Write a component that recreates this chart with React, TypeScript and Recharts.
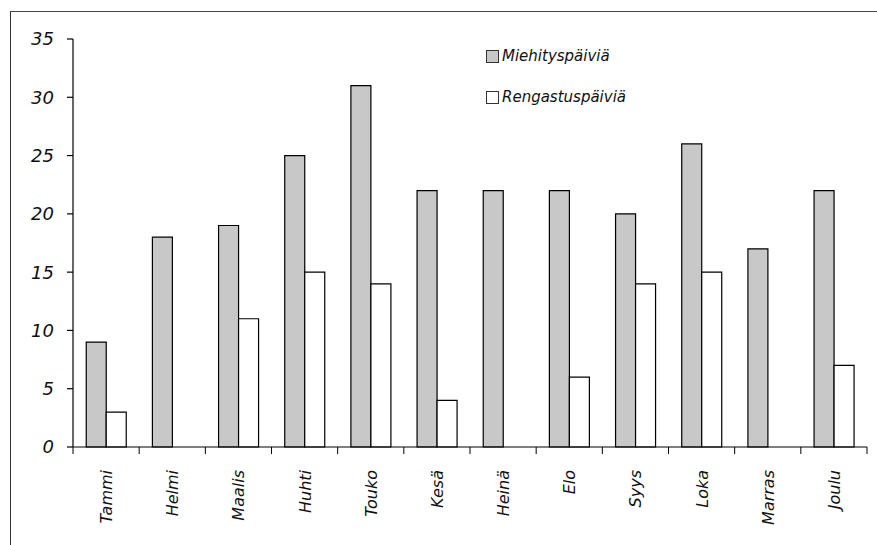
import React from 'react';
import { BarChart, Bar, XAxis, YAxis } from 'recharts';

const months = ['Tammi', 'Helmi', 'Maalis', 'Huhti', 'Touko', 'Kesä', 'Heinä', 'Elo', 'Syys', 'Loka', 'Marras', 'Joulu'];
const miehitys = [9, 18, 19, 25, 31, 22, 22, 22, 20, 26, 17, 22];
const rengastus = [3, 0, 11, 15, 14, 4, 0, 6, 14, 15, 0, 7];
const yTicks = [0, 5, 10, 15, 20, 25, 30, 35];

const data = months.map((m, i) => ({ name: m, miehitys: miehitys[i], rengastus: rengastus[i] }));

const W = 877;
const H = 545;
const PLOT_LEFT = 73;
const PLOT_RIGHT = 10;
const BAND = (W - PLOT_LEFT - PLOT_RIGHT) / months.length;
const FONT = '"DejaVu Sans", sans-serif';

const MonthTick = (props: any) => {
  const { x, y, payload, index } = props;
  const left = x - BAND / 2;
  return (
    <g>
      <line x1={left} y1={y - 8} x2={left} y2={y - 1} stroke="#000" strokeWidth={1} />
      {index === months.length - 1 && (
        <line x1={x + BAND / 2} y1={y - 8} x2={x + BAND / 2} y2={y - 1} stroke="#000" strokeWidth={1} />
      )}
      <text
        x={0}
        y={0}
        transform={`translate(${x + 6},${y + 15}) rotate(-90)`}
        textAnchor="end"
        fontFamily={FONT}
        fontStyle="italic"
        fontSize={16}
        fill="#111"
      >
        {payload.value}
      </text>
    </g>
  );
};

const App: React.FC = () => {
  return (
    <div style={{ position: 'fixed', left: 0, top: 0, width: W, height: H, background: '#fff' }}>
      <div style={{ position: 'absolute', left: 10, top: 11, right: 0, bottom: 0, borderLeft: '1.5px solid #333', borderTop: '1.5px solid #444' }} />
      <BarChart
        width={W}
        height={H}
        data={data}
        margin={{ top: 39, right: PLOT_RIGHT, bottom: 0, left: 0 }}
        barCategoryGap="20%"
        barGap={0}
        style={{ position: 'absolute', left: 0, top: 0 }}
      >
        <XAxis
          dataKey="name"
          height={98}
          interval={0}
          tickLine={false}
          axisLine={{ stroke: '#000', strokeWidth: 1.2 }}
          tick={<MonthTick />}
        />
        <YAxis
          width={PLOT_LEFT}
          domain={[0, 35]}
          ticks={yTicks}
          tickSize={6}
          tickMargin={13}
          axisLine={{ stroke: '#000', strokeWidth: 1.2 }}
          tickLine={{ stroke: '#000', strokeWidth: 1.2 }}
          tick={{ fontFamily: FONT, fontStyle: 'italic', fontSize: 18, fill: '#111' }}
        />
        <Bar dataKey="miehitys" fill="#c8c8c8" stroke="#000" strokeWidth={1.2} isAnimationActive={false} />
        <Bar dataKey="rengastus" fill="#fff" stroke="#000" strokeWidth={1.2} isAnimationActive={false} />
      </BarChart>
      <div style={{ position: 'absolute', left: 486, top: 36, fontFamily: FONT, fontStyle: 'italic', fontSize: 15, color: '#111', lineHeight: '41px' }}>
        <div style={{ display: 'flex', alignItems: 'center' }}>
          <span style={{ display: 'inline-block', width: 11, height: 11, background: '#c8c8c8', border: '1px solid #333', marginRight: 3 }} />
          Miehityspäiviä
        </div>
        <div style={{ display: 'flex', alignItems: 'center' }}>
          <span style={{ display: 'inline-block', width: 11, height: 11, background: '#fff', border: '1px solid #333', marginRight: 3 }} />
          Rengastuspäiviä
        </div>
      </div>
    </div>
  );
};

export default App;
